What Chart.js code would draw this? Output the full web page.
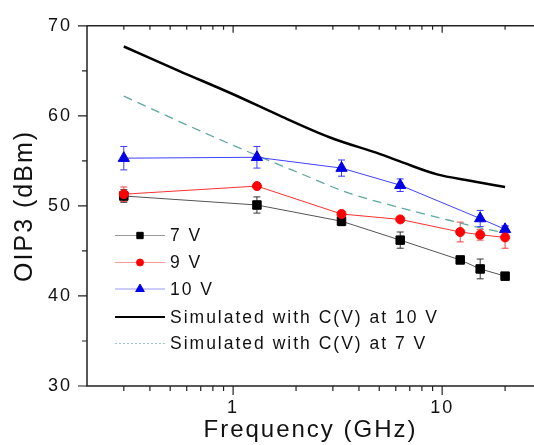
<!DOCTYPE html>
<html><head><meta charset="utf-8">
<script src="https://cdn.jsdelivr.net/npm/chart.js@4/dist/chart.umd.min.js"></script>
<style>html,body{margin:0;padding:0;background:#fff;overflow:hidden}#wrap{width:534px;height:445px;position:relative}</style>
</head><body><div id="wrap"><canvas id="c" width="534" height="445"></canvas></div>
<script>
// ---- data ----
const freq = [0.3, 1.3, 3.3, 6.3, 12.2, 15.2, 20];           // GHz
const oip3_7V = [51.1, 50.1, 48.3, 46.2, 44.0, 43.0, 42.2];
const err_7V  = [0.7, 0.9, 0.5, 0.9, 0, 1.1, 0];
const oip3_9V = [51.3, 52.2, 49.1, 48.5, 47.1, 46.8, 46.5];
const err_9V  = [0.8, 0, 0, 0, 1.1, 0.6, 1.2];
const freq10  = [0.3, 1.3, 3.3, 6.3, 15.2, 20];
const oip3_10V = [55.3, 55.4, 54.2, 52.3, 48.6, 47.4];
const err_10V  = [1.3, 1.2, 0.9, 0.7, 0.9, 0.4];
const freqSim10 = [0.3, 0.55, 1.0, 1.68, 2.91, 5.05, 6.51, 9.46, 13.6, 20];
const sim10 = [67.7, 65.0, 62.4, 60.0, 57.6, 55.75, 54.8, 53.5, 52.8, 52.1];
const freqSim7 = [0.3, 0.7, 1.3, 2.1, 3.5, 6.3, 10, 15, 20];
const sim7 = [62.2, 58.3, 55.6, 53.6, 51.5, 49.8, 48.6, 47.6, 47.0];
const xTickLabels = [1, 10];
const yTicks = [30, 40, 50, 60, 70];
const legendLabels = ['7 V', '9 V', '10 V', 'Simulated with C(V) at 10 V', 'Simulated with C(V) at 7 V'];

const pts = (xs, ys) => xs.map((x, i) => ({x, y: ys[i]}));
const FONT = 'Arial, "Liberation Sans", sans-serif';

const errorBars = {
  id: 'errorBars',
  beforeDatasetsDraw(chart) {
    const ctx = chart.ctx, xs = chart.scales.x, ys = chart.scales.y;
    const sets = [[freq, oip3_7V, err_7V, '#333'], [freq, oip3_9V, err_9V, '#f04040'], [freq10, oip3_10V, err_10V, '#3a3aff']];
    ctx.save();
    ctx.lineWidth = 1;
    for (const [fx, v, e, col] of sets) {
      ctx.strokeStyle = col;
      fx.forEach((f, i) => {
        if (!e[i]) return;
        const px = xs.getPixelForValue(f), y1 = ys.getPixelForValue(v[i] + e[i]), y2 = ys.getPixelForValue(v[i] - e[i]);
        ctx.beginPath();
        ctx.moveTo(px, y1); ctx.lineTo(px, y2);
        ctx.moveTo(px - 3.5, y1); ctx.lineTo(px + 3.5, y1);
        ctx.moveTo(px - 3.5, y2); ctx.lineTo(px + 3.5, y2);
        ctx.stroke();
      });
    }
    ctx.restore();
  }
};

const axesAndLegend = {
  id: 'axesAndLegend',
  beforeDraw(chart) { chart.ctx.letterSpacing = '2px'; },
  afterDatasetsDraw(chart) {
    const ctx = chart.ctx, xs = chart.scales.x, ys = chart.scales.y, a = chart.chartArea;
    ctx.save();
    ctx.strokeStyle = '#222'; ctx.lineWidth = 1.5;
    ctx.beginPath();
    ctx.moveTo(a.left, a.top); ctx.lineTo(a.left, a.bottom); ctx.lineTo(a.right, a.bottom);
    ctx.moveTo(a.left, a.top); ctx.lineTo(a.right, a.top);
    ctx.stroke();
    ctx.lineWidth = 1.2;
    ctx.beginPath();
    const xt = [];
    for (const dec of [0.1, 1, 10]) for (let k = 1; k <= 9; k++) xt.push(+(k * dec).toFixed(2));
    xt.forEach(v => {
      if (v <= xs.min || v >= xs.max) return;
      const px = xs.getPixelForValue(v), major = xTickLabels.includes(v);
      ctx.moveTo(px, a.bottom); ctx.lineTo(px, a.bottom + (major ? 9 : 5));
      ctx.moveTo(px, a.top); ctx.lineTo(px, a.top + (major ? 7 : 4));
    });
    for (let v = 30; v <= 70; v += 5) {
      const py = ys.getPixelForValue(v), major = yTicks.includes(v);
      ctx.moveTo(a.left, py); ctx.lineTo(a.left - (major ? 9 : 5), py);
    }
    ctx.stroke();

    // legend
    const rows = [235.5, 262.5, 289, 317, 343.5];
    const styles = [
      {line: '#999', w: 1, dash: [], ps: 'rect', r: 4.5, c: '#000'},
      {line: '#f99', w: 1, dash: [], ps: 'circle', r: 3.5, c: '#f00'},
      {line: '#99f', w: 1, dash: [], ps: 'triangle', r: 5, c: '#00e'},
      {line: '#000', w: 2, dash: [], ps: null},
      {line: '#9cc8c8', w: 1, dash: [2, 2], ps: null}
    ];
    ctx.font = '17.5px ' + FONT;
    ctx.textBaseline = 'middle'; ctx.textAlign = 'left'; ctx.fillStyle = '#111';
    rows.forEach((y, i) => {
      const s = styles[i];
      ctx.save();
      ctx.strokeStyle = s.line; ctx.lineWidth = s.w; ctx.setLineDash(s.dash);
      ctx.beginPath(); ctx.moveTo(115, y); ctx.lineTo(165, y); ctx.stroke();
      ctx.restore();
      if (s.ps) {
        ctx.save();
        ctx.fillStyle = s.c; ctx.strokeStyle = s.c; ctx.lineWidth = 1;
        Chart.helpers.drawPoint(ctx, {pointStyle: s.ps, radius: s.r, rotation: 0, borderWidth: 1}, 140, y);
        ctx.restore();
      }
      ctx.fillText(legendLabels[i], 170, y + 1);
    });
    ctx.restore();
  }
};

new Chart(document.getElementById('c'), {
  type: 'line',
  data: {
    datasets: [
      {label: legendLabels[0], data: pts(freq, oip3_7V), borderColor: '#555', borderWidth: 1, pointStyle: 'rect', pointRadius: 6, pointBackgroundColor: '#000', pointBorderColor: '#000', order: 3},
      {label: legendLabels[1], data: pts(freq, oip3_9V), borderColor: '#ff3030', borderWidth: 1, pointStyle: 'circle', pointRadius: 4.5, pointBackgroundColor: '#f00', pointBorderColor: '#f00', order: 1},
      {label: legendLabels[2], data: pts(freq10, oip3_10V), borderColor: '#4040ff', borderWidth: 1, pointStyle: 'triangle', pointRadius: 6.5, pointBackgroundColor: '#0000e6', pointBorderColor: '#0000e6', order: 2},
      {label: legendLabels[3], data: pts(freqSim10, sim10), borderColor: '#000', borderWidth: 2.5, pointRadius: 0, cubicInterpolationMode: 'monotone', order: 5},
      {label: legendLabels[4], data: pts(freqSim7, sim7), borderColor: '#5fa8a0', borderWidth: 1.3, borderDash: [9, 6], pointRadius: 0, cubicInterpolationMode: 'monotone', order: 4}
    ]
  },
  options: {
    responsive: false, animation: false, devicePixelRatio: 1,
    layout: {autoPadding: false, padding: {top: 22, right: 0, bottom: 0, left: 0}},
    plugins: {legend: {display: false}, tooltip: {enabled: false}},
    scales: {
      x: {
        type: 'logarithmic', min: 0.2, max: 27.5, bounds: 'data',
        grid: {display: false, drawTicks: false}, border: {display: false},
        ticks: {autoSkip: false, maxRotation: 0, padding: 11, color: '#111', font: {family: FONT, size: 18},
          callback: v => xTickLabels.includes(+(+v).toFixed(3)) ? String(+(+v).toFixed(3)) : ''},
        title: {display: true, text: 'Frequency (GHz)', color: '#111', font: {family: FONT, size: 24}, padding: 0},
        afterFit: s => { s.height = 59; s.paddingLeft = 0; s.paddingRight = 0; }
      },
      y: {
        min: 30, max: 70,
        grid: {display: false, drawTicks: false}, border: {display: false},
        afterBuildTicks: s => { s.ticks = yTicks.map(v => ({value: v})); },
        ticks: {padding: 15, color: '#111', font: {family: FONT, size: 18}},
        title: {display: true, text: 'OIP3 (dBm)', color: '#111', font: {family: FONT, size: 25}, padding: {top: 10, bottom: 0}},
        afterFit: s => { s.width = 87; }
      }
    }
  },
  plugins: [errorBars, axesAndLegend]
});
</script></body></html>
